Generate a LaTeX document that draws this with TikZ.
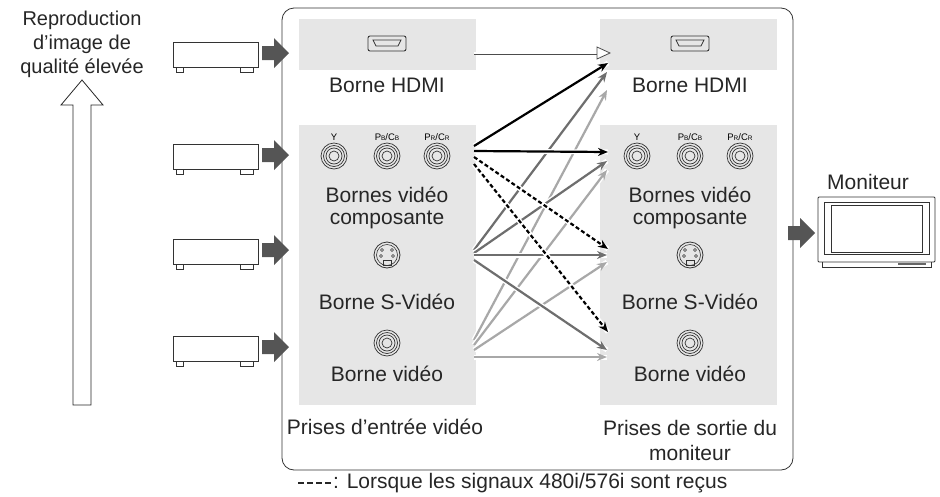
\documentclass[tikz,border=0pt]{standalone}
\usepackage{fontspec}
\setmainfont{Liberation Sans}
\usetikzlibrary{arrows.meta}
\definecolor{boxgray}{HTML}{E6E6E6}
\definecolor{midg}{HTML}{6E6E6E}
\definecolor{lightg}{HTML}{A8A8A8}
\definecolor{darkarr}{HTML}{555555}
\newcommand{\subsc}[1]{{\fontsize{6.5}{7}\selectfont #1}}
\begin{document}
\begin{tikzpicture}[x=1pt,y=-1pt,
  lbl/.style={font=\fontsize{21}{24}\selectfont,text=black!85,inner sep=0},
  small/.style={font=\fontsize{9.5}{10}\selectfont,inner sep=0},
  gbox/.style={fill=boxgray,draw=none},
  sig/.style={line width=2.2pt,-{Stealth[length=10pt,width=8pt]},preaction={draw=white,line width=5pt,-{}}},
  dev/.style={draw=black!80,line width=0.8pt,fill=white},
  fat/.style={fill=darkarr,draw=none}]
\useasboundingbox (0,0) rectangle (940,496);
% outer frame
\draw[black!80,line width=0.8pt,rounded corners=12pt] (282,8) rectangle (793,470);
% gray boxes
\fill[gbox] (299,19) rectangle (476,70);
\fill[gbox] (299,125) rectangle (476,405);
\fill[gbox] (600,19) rectangle (777,70);
\fill[gbox] (600,125) rectangle (777,405);
% icons and labels for both columns
\foreach \cx/\s in {387/L,690/R}{
  \draw[black!80,line width=0.9pt,rounded corners=2pt] (\cx-19,36) rectangle (\cx+19,51);
  \draw[black!80,line width=0.7pt] (\cx-14,40) -- (\cx+14,40) -- (\cx+11,46) -- (\cx-11,46) -- cycle;
  \node[lbl] (hdmi\s) at (\cx,85) {Borne HDMI};
  \foreach \dx/\t in {-53/{Y},0/{P\subsc{B}/C\subsc{B}},50/{P\subsc{R}/C\subsc{R}}}{
    \node[small] at (\cx+\dx,137) {\t};
    \foreach \r in {13,10.5,8,5}{\draw[black!80,line width=0.7pt] (\cx+\dx,156) circle (\r pt);}
  }
  \node[lbl] (comp\s) at (\cx,195) {Bornes vidéo};
  \node[lbl] at (\cx,220) {composante};
  \draw[black!80,line width=0.8pt] (\cx,255) circle (13pt);
  \draw[black!80,line width=0.6pt] (\cx,255) circle (10.5pt);
  \foreach \px/\py in {-5/-5,5/-5,-6/1,6/1}{\draw[black!80,line width=0.5pt] (\cx+\px,255+\py) circle (1.5pt);}
  \draw[black!80,line width=0.6pt] (\cx-4,260) rectangle (\cx+4,265);
  \node[lbl] (sv\s) at (\cx,302) {Borne S-Vidéo};
  \foreach \r in {13,10.5,8,5}{\draw[black!80,line width=0.7pt] (\cx,343) circle (\r pt);}
  \node[lbl] (vid\s) at (\cx,374) {Borne vidéo};
}
\node[lbl] (inlab) at (385,427) {Prises d’entrée vidéo};
\node[lbl,align=center,font=\fontsize{21}{25}\selectfont] (outlab) at (690,440) {Prises de sortie du\\moniteur};
% legend
\draw[black!85,line width=2pt,dash pattern=on 6pt off 3pt] (298,483) -- (331,483);
\node[lbl,anchor=west] (legend) at (333,483) {: Lorsque les signaux 480i/576i sont reçus};
% source/target coordinates
\coordinate (sH) at (474,53); \coordinate (tH) at (610,53);
% HDMI double arrow
\draw[black!70,line width=3pt] (sH) -- (597,53);
\draw[white,line width=1.4pt] (sH) -- (598,53);
\draw[black!70,line width=0.8pt,fill=white] (597,47) -- (tH) -- (597,59) -- cycle;
% signal arrows
\draw[sig,lightg] (474,340) -- (607,90);
\draw[sig,lightg] (474,345) -- (607,170);
\draw[sig,lightg] (474,350) -- (607,262);
\draw[sig,lightg] (474,357) -- (607,357);
\draw[sig,midg] (474,250) -- (607,72);
\draw[sig,midg] (474,253) -- (607,161);
\draw[sig,midg] (474,255) -- (607,255);
\draw[sig,midg] (474,260) -- (607,350);
\draw[sig,black] (474,146) -- (608,63);
\draw[sig,black] (474,151) -- (608,152);
\draw[sig,black,dash pattern=on 4pt off 2.5pt] (474,157) -- (608,249);
\draw[sig,black,dash pattern=on 4pt off 2.5pt] (474,164) -- (608,332);
% source devices
\foreach \y/\n in {53/a,155/b,250/c,347/d}{
  \draw[dev] (176,\y+14) rectangle (183,\y+19);
  \draw[dev] (240,\y+14) rectangle (253,\y+19);
  \draw[dev] (173,\y-11) rectangle (258,\y+14);
  \node[inner sep=0] (dev\n) at (215,\y) {};
  \fill[fat] (262,\y-7) -- (274,\y-7) -- (274,\y-15) -- (289,\y) -- (274,\y+15) -- (274,\y+7) -- (262,\y+7) -- cycle;
}
% monitor
\node[lbl] (mon) at (868,182) {Moniteur};
\fill[fat] (788,226) -- (800,226) -- (800,218) -- (815,233) -- (800,248) -- (800,240) -- (788,240) -- cycle;
\draw[dev,rounded corners=1pt] (818,197) rectangle (935,262);
\draw[black!80,line width=0.7pt] (824,202) rectangle (929,254);
\draw[black!80,line width=0.6pt] (831,205) rectangle (922,252);
\draw[black!80,line width=0.7pt] (822,262) -- (822,267) -- (931,267) -- (931,262);
\fill[black!60] (898,262.5) rectangle (926,265);
% quality arrow
\node[lbl,align=center,font=\fontsize{20}{24}\selectfont] (qual) at (82,44) {Reproduction\\d’image de\\qualité élevée};
\draw[black!85,line width=0.8pt,fill=white] (73,405) -- (73,105) -- (61,105) -- (82,80) -- (103,105) -- (91,105) -- (91,405) -- cycle;
\end{tikzpicture}
\end{document}
